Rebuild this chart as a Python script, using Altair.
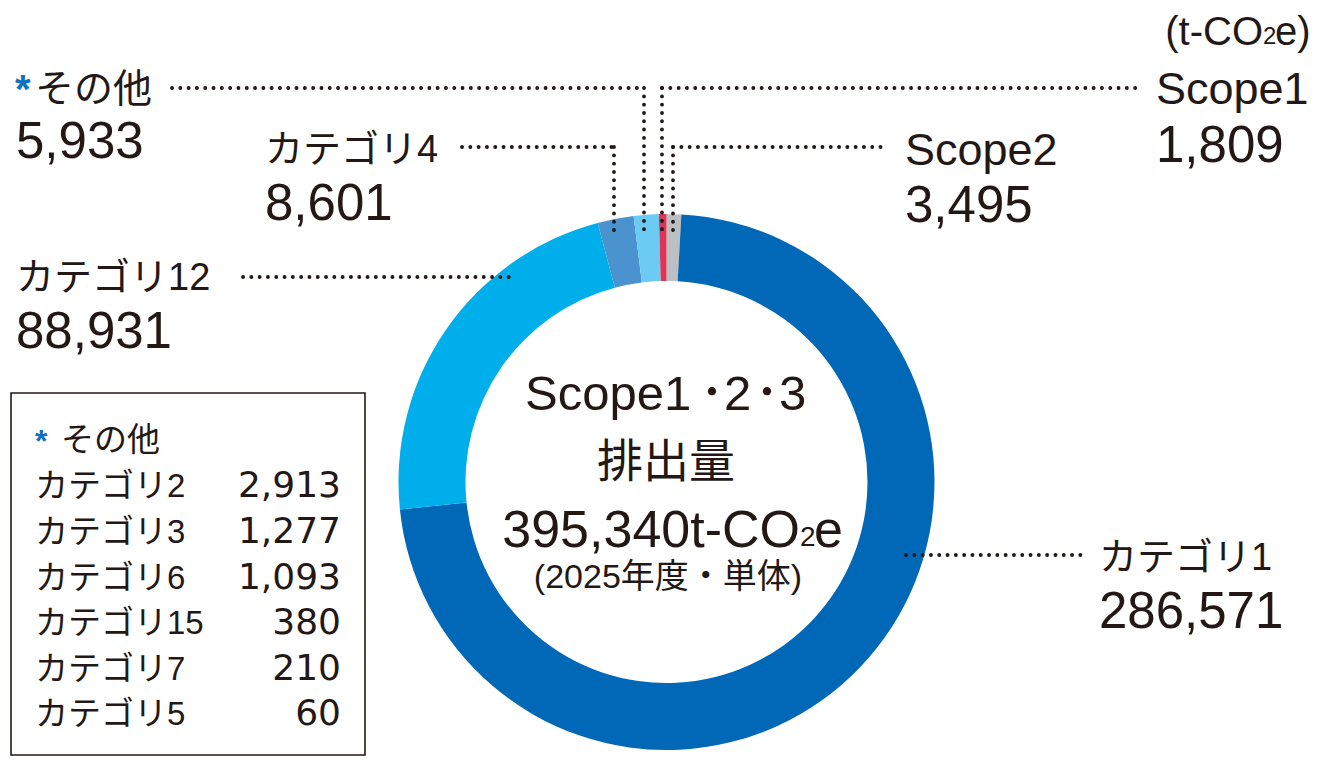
import altair as alt
import pandas as pd

# ---------------- data ----------------
slice_names = ["Scope2", "カテゴリ1", "カテゴリ12", "カテゴリ4", "その他", "Scope1"]
slice_values = [3495, 286571, 88931, 8601, 5933, 1809]
slice_colors = ["#bcc0c3", "#0068b7", "#00aeeb", "#4a93cf", "#6ccbf3", "#dc3558"]

other_names = ["カテゴリ2", "カテゴリ3", "カテゴリ6", "カテゴリ15", "カテゴリ7", "カテゴリ5"]
other_values = [2913, 1277, 1093, 380, 210, 60]

unit_text = ["(t-CO", "2", "e)"]
center_title_parts = ["Scope1", "･", "2", "･", "3"]
center_title2 = "排出量"
center_note = "(2025年度・単体)"

VAL = dict(zip(slice_names, slice_values))
TOTAL = sum(slice_values)

# ---------------- layout (reference pixel coords) ----------------
FONT = "Liberation Sans, Noto Sans CJK JP, sans-serif"
NUMFONT = "DejaVu Sans, Liberation Sans, sans-serif"
INK = "#231815"
STAR = "#1170bd"
W, H = 1304, 748
XS = alt.Scale(domain=[8, 8 + W], nice=False, zero=False)
YS = alt.Scale(domain=[8, 8 + H], nice=False, zero=False, reverse=True)

layers = []

# donut
arc_df = pd.DataFrame({"name": slice_names, "value": slice_values,
                       "ord": list(range(len(slice_names)))})
layers.append(
    alt.Chart(arc_df).mark_arc(outerRadius=268, innerRadius=201).encode(
        theta=alt.Theta("value:Q", stack=True),
        order=alt.Order("ord:Q"),
        color=alt.Color("name:N", scale=alt.Scale(domain=slice_names, range=slice_colors), legend=None),
        x=alt.value(666.5 - 8),
        y=alt.value(482 - 8),
    )
)

# leader lines
segments = [
    (172, 88, 644, 88), (644, 88, 644, 233),      # その他
    (662, 88, 1140, 88), (662, 88, 662, 233),     # Scope1
    (462, 147, 614, 147), (614, 147, 614, 238),   # カテゴリ4
    (673, 147, 888, 147), (673, 147, 673, 232),   # Scope2
    (243, 277, 513, 277),                         # カテゴリ12
    (906, 555, 1082, 555),                        # カテゴリ1
]
seg_df = pd.DataFrame(segments, columns=["x", "y", "x2", "y2"])
layers.append(
    alt.Chart(seg_df).mark_rule(strokeDash=[0.1, 8.2], strokeCap="round",
                                strokeWidth=3.8, color=INK).encode(
        x=alt.X("x:Q", scale=XS, axis=None), x2="x2:Q",
        y=alt.Y("y:Q", scale=YS, axis=None), y2="y2:Q",
    )
)

# legend box
box_df = pd.DataFrame({"x": [11], "x2": [365], "y": [393], "y2": [755]})
layers.append(
    alt.Chart(box_df).mark_rect(fillOpacity=0, stroke=INK, strokeWidth=1.6).encode(
        x=alt.X("x:Q", scale=XS, axis=None), x2="x2:Q",
        y=alt.Y("y:Q", scale=YS, axis=None), y2="y2:Q",
    )
)


def txt(x, y, s, size, align="left", color=INK, font=FONT, weight="normal"):
    df = pd.DataFrame({"x": [x], "y": [y], "t": [s]})
    return alt.Chart(df).mark_text(align=align, baseline="alphabetic", fontSize=size,
                                   font=font, color=color, fontWeight=weight).encode(
        x=alt.X("x:Q", scale=XS, axis=None),
        y=alt.Y("y:Q", scale=YS, axis=None),
        text="t:N",
    )


def fmt(v):
    return f"{v:,}"


# unit
layers.append(txt(1263, 45, unit_text[0], 40, "right"))
layers.append(txt(1263, 44, unit_text[1], 24, "left"))
layers.append(txt(1275, 45, unit_text[2], 40, "left"))

# outer labels: (name, x, name_baseline, value_baseline, name_size)
labels = [
    ("その他", 35, 102, 158, 39),
    ("カテゴリ4", 265, 162, 220, 38),
    ("カテゴリ12", 16, 290, 348, 38),
    ("カテゴリ1", 1099, 570, 628, 38),
    ("Scope2", 905, 165, 222, 45),
    ("Scope1", 1156, 104, 162, 45),
]
for name, x, yb, vb, sz in labels:
    layers.append(txt(x, yb, name, sz))
    vx = 16 if name == "その他" else x
    layers.append(txt(vx, vb, fmt(VAL[name]), 51))
layers.append(txt(15, 103, "*", 40, color=STAR, weight="bold"))

# center
title_pos = [(525, "left"), (712, "center"), (724, "left"), (767, "center"), (779, "left")]
for part, (px, al) in zip(center_title_parts, title_pos):
    layers.append(txt(px, 410, part, 49, al))
layers.append(txt(666, 477, center_title2, 46, "center"))
layers.append(txt(800, 547, fmt(TOTAL) + "t-CO", 52, "right"))
layers.append(txt(800, 546, "2", 28, "left"))
layers.append(txt(814, 547, "e", 52, "left"))
layers.append(txt(668, 588, center_note, 34, "center"))

# legend content
layers.append(txt(35, 452, "*", 32, color=STAR, weight="bold"))
layers.append(txt(61, 451, "その他", 33))
row_base = [497, 543, 589, 634, 680, 725]
for n, v, b in zip(other_names, other_values, row_base):
    layers.append(txt(35, b, n, 33))
    layers.append(txt(341, b, fmt(v), 36, "right", font=NUMFONT))

chart = alt.layer(*layers).properties(
    width=W, height=H, padding=0, autosize=alt.AutoSizeParams(type="none"),
    background="white",
).configure_view(strokeWidth=0)

chart.save("out.html", embed_options={"renderer": "svg", "actions": False})
